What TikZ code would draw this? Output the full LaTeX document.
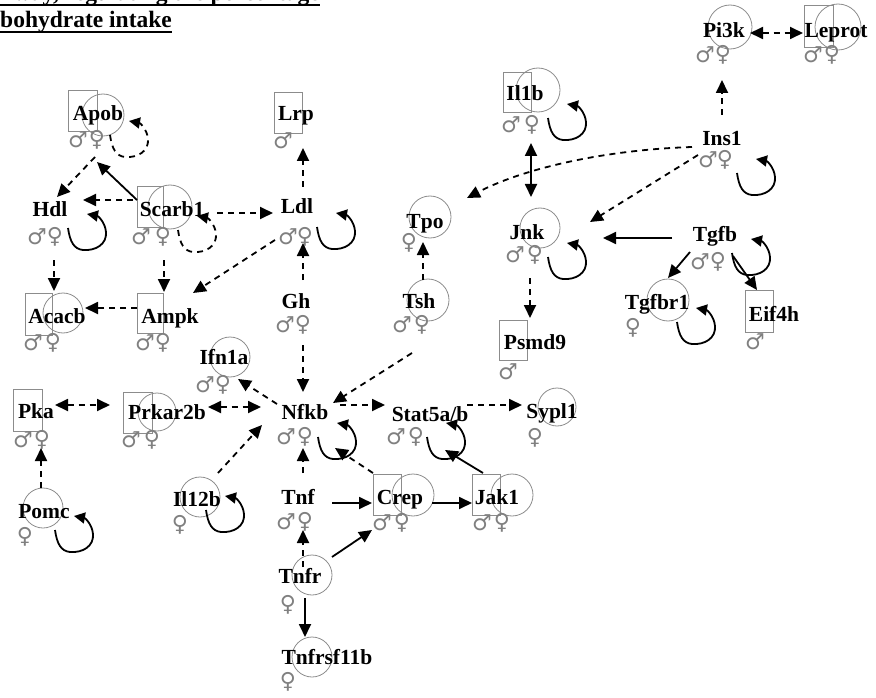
\documentclass[tikz,border=0pt]{standalone}
\usepackage{fontspec}
\setmainfont{Liberation Serif}
\newfontfamily\gsym{DejaVu Sans}
\usetikzlibrary{arrows.meta}
\tikzset{
  lbl/.style={anchor=base, inner sep=0pt, font=\fontsize{21.5}{21.5}\selectfont\bfseries},
  ttl/.style={inner sep=0pt, font=\fontsize{23.5}{24}\selectfont\bfseries},
  gsh/.style={draw=black!45, line width=0.8pt},
  sm/.style={inner sep=0pt, text=black!50, font=\gsym\fontsize{22}{22}\selectfont},
  tip/.style={-{Triangle[length=13pt,width=12pt]}},
  btip/.style={{Triangle[length=13pt,width=12pt]}-{Triangle[length=13pt,width=12pt]}},
  ltip/.style={-{Triangle[length=11pt,width=11pt]}},
  dsh/.style={line width=1.8pt, dash pattern=on 6pt off 5pt, tip},
  dd/.style={line width=1.8pt, dash pattern=on 6pt off 5pt, btip},
  sol/.style={line width=1.8pt, tip},
  sd/.style={line width=1.8pt, btip},
  ldsh/.style={line width=1.8pt, dash pattern=on 6pt off 5pt, ltip},
  lsol/.style={line width=1.8pt, ltip},
  pics/sloop/.style={code={\draw[#1] (0,0) .. controls (2,14) and (6,21) .. (15,22) .. controls (28,23) and (39,16) .. (38,4) .. controls (37,-6) and (30,-12) .. (19,-14);}}
}
\newcommand\msym[3]{\node[sm, xshift=-2pt] (#1) at (#2,#3) {♂};}
\newcommand\fsym[3]{\node[sm] (#1) at (#2,#3) {♀};}
\begin{document}
\begin{tikzpicture}[x=1pt,y=-1pt]
\useasboundingbox (0,0) rectangle (876,698);
% title
\begin{scope}
\clip (0,0) rectangle (876,698);
\node[ttl, anchor=base east] (t1) at (320,1) {pathway, regulating the percentage};
\draw[line width=2pt] ([yshift=-4pt]t1.base west) -- ([yshift=-4pt]t1.base east);
\end{scope}
\node[ttl, anchor=base west] (t2) at (0,28) {bohydrate intake};
\draw[line width=2pt] ([yshift=-4pt]t2.base west) -- ([yshift=-4pt]t2.base east);

% gray shapes
\draw[gsh] (68,90) rectangle (97,131); \draw[gsh] (103,115) circle[radius=21pt];
\draw[gsh] (274,92) rectangle (302,133);
\draw[gsh] (137,186) rectangle (163,227); \draw[gsh] (170,207) circle[radius=22pt];
\draw[gsh] (25,293) rectangle (52,335); \draw[gsh] (63,313) circle[radius=20pt];
\draw[gsh] (137,293) rectangle (163,333);
\draw[gsh] (430,217) circle[radius=21pt];
\draw[gsh] (428,300) circle[radius=21pt];
\draw[gsh] (730,27) circle[radius=22pt];
\draw[gsh] (804,5) rectangle (833,47); \draw[gsh] (838,27) circle[radius=23pt];
\draw[gsh] (503,72) rectangle (531,112); \draw[gsh] (538,90) circle[radius=22pt];
\draw[gsh] (540,228) circle[radius=20pt];
\draw[gsh] (668,300) circle[radius=21pt];
\draw[gsh] (745,290) rectangle (773,332);
\draw[gsh] (499,320) rectangle (527,360);
\draw[gsh] (230,357) circle[radius=20pt];
\draw[gsh] (13,389) rectangle (42,431);
\draw[gsh] (123,392) rectangle (152,433); \draw[gsh] (157,412) circle[radius=19pt];
\draw[gsh] (43,508) circle[radius=20pt];
\draw[gsh] (200,497) circle[radius=20pt];
\draw[gsh] (557,407) circle[radius=19pt];
\draw[gsh] (373,474) rectangle (401,515); \draw[gsh] (413,495) circle[radius=21pt];
\draw[gsh] (472,474) rectangle (500,515); \draw[gsh] (512,495) circle[radius=21pt];
\draw[gsh] (312,575) circle[radius=20pt];
\draw[gsh] (312,657) circle[radius=20pt];

% labels
\node[lbl] (apob) at (98,121) {Apob};
\node[lbl] (lrp) at (296,121) {Lrp};
\node[lbl] (hdl) at (50,216) {Hdl};
\node[lbl] (scarb1) at (172,216) {Scarb1};
\node[lbl] (ldl) at (297,214) {Ldl};
\node[lbl] (acacb) at (57,323) {Acacb};
\node[lbl] (ampk) at (170,323) {Ampk};
\node[lbl] (gh) at (296,308) {Gh};
\node[lbl] (tpo) at (425,228) {Tpo};
\node[lbl] (tsh) at (419,308) {Tsh};
\node[lbl] (pi3k) at (724,38) {Pi3k};
\node[lbl] (leprot) at (836,38) {Leprot};
\node[lbl] (il1b) at (525,101) {Il1b};
\node[lbl] (ins1) at (722,146) {Ins1};
\node[lbl] (jnk) at (527,239) {Jnk};
\node[lbl] (tgfb) at (715,241) {Tgfb};
\node[lbl] (tgfbr1) at (657,309) {Tgfbr1};
\node[lbl] (eif4h) at (774,321) {Eif4h};
\node[lbl] (psmd9) at (535,349) {Psmd9};
\node[lbl] (ifn1a) at (224,364) {Ifn1a};
\node[lbl] (pka) at (36,418) {Pka};
\node[lbl] (prkar2b) at (167,419) {Prkar2b};
\node[lbl] (pomc) at (44,518) {Pomc};
\node[lbl] (il12b) at (197,506) {Il12b};
\node[lbl] (nfkb) at (305,419) {Nfkb};
\node[lbl] (stat5) at (430,421) {Stat5a/b};
\node[lbl] (sypl1) at (552,418) {Sypl1};
\node[lbl] (tnf) at (298,504) {Tnf};
\node[lbl] (crep) at (400,504) {Crep};
\node[lbl] (jak1) at (497,504) {Jak1};
\node[lbl] (tnfr) at (300,583) {Tnfr};
\node[lbl] (tnfrsf11b) at (327,664) {Tnfrsf11b};

% sex symbols
\msym{apobm}{80}{140} \fsym{apobf}{97}{140}
\msym{lrpm}{285}{141}
\msym{hdlm}{39}{237} \fsym{hdlf}{55}{237}
\msym{scarbm}{143}{237} \fsym{scarbf}{163}{237}
\msym{ldlm}{290}{237} \fsym{ldlf}{305}{237}
\msym{acacbm}{35}{343} \fsym{acacbf}{53}{343}
\msym{ampkm}{147}{343} \fsym{ampkf}{163}{343}
\msym{ghm}{287}{325} \fsym{ghf}{303}{325}
\fsym{tpof}{409}{243}
\msym{tshm}{404}{325} \fsym{tshf}{422}{325}
\msym{pikm}{707}{55} \fsym{pikf}{723}{55}
\msym{leprotm}{815}{55} \fsym{leprotf}{832}{55}
\msym{ilbm}{513}{125} \fsym{ilbf}{532}{125}
\msym{insm}{710}{160} \fsym{insf}{725}{160}
\msym{jnkm}{517}{255} \fsym{jnkf}{535}{255}
\msym{tgfbm}{702}{262} \fsym{tgfbf}{718}{262}
\fsym{tgfbrf}{633}{328}
\msym{eifm}{757}{342}
\msym{psmdm}{510}{372}
\msym{ifnm}{207}{385} \fsym{ifnf}{223}{385}
\msym{pkam}{25}{440} \fsym{pkaf}{42}{440}
\msym{prkm}{133}{440} \fsym{prkf}{152}{440}
\fsym{pomcf}{25}{537}
\fsym{il12f}{180}{525}
\msym{nfkbm}{288}{437} \fsym{nfkbf}{305}{437}
\msym{statm}{398}{437} \fsym{statf}{416}{437}
\fsym{syplf}{535}{438}
\msym{tnfm}{288}{522} \fsym{tnff}{305}{522}
\msym{crepm}{384}{523} \fsym{crepf}{402}{523}
\msym{jakm}{484}{523} \fsym{jakf}{502}{523}
\fsym{tnfrf}{288}{605}
\fsym{tnfrsff}{288}{682}

% edges
\draw[sol] ([shift={(-35,-16)}]scarb1.base) -- ([shift={(-1,41)}]apob.base);
\draw[dsh] ([shift={(-3,36)}]apob.base) -- ([shift={(7,-19)}]hdl.base);
\draw[dsh] ([shift={(-39,-16)}]scarb1.base) -- ([shift={(33,-16)}]hdl.base);
\draw[dsh] ([shift={(45,-3)}]scarb1.base) -- ([shift={(-24,-1)}]ldl.base);
\draw[dsh] ([shift={(4,44)}]hdl.base) -- ([shift={(-3,-32)}]acacb.base);
\draw[dsh] ([shift={(-8,44)}]scarb1.base) -- ([shift={(-6,-31)}]ampk.base);
\draw[dsh] ([shift={(-22,26)}]ldl.base) -- ([shift={(23,-30)}]ampk.base);
\draw[dsh] ([shift={(-33,-15)}]ampk.base) -- ([shift={(28,-15)}]acacb.base);
\draw[dsh] ([shift={(6,-27)}]ldl.base) -- ([shift={(7,27)}]lrp.base);
\draw[dsh] ([shift={(7,-28)}]gh.base) -- ([shift={(6,29)}]ldl.base);
\draw[dsh] ([shift={(4,-28)}]tsh.base) -- ([shift={(-2,14)}]tpo.base);
\draw[dsh] ([shift={(-30,1)}]ins1.base) .. controls ([shift={(-122,4)}]ins1.base) and ([shift={(95,-58)}]tpo.base) .. ([shift={(42,-30)}]tpo.base);
\draw[dsh] ([shift={(-24,9)}]ins1.base) -- ([shift={(63,-17)}]jnk.base);
\draw[sd] ([shift={(6,42)}]il1b.base) -- ([shift={(4,-42)}]jnk.base);
\draw[dsh] ([shift={(0,-31)}]ins1.base) -- ([shift={(-2,42)}]pi3k.base);
\draw[dd] ([shift={(26,-5)}]pi3k.base) -- ([shift={(-33,-5)}]leprot.base);
\draw[sol] ([shift={(-43,-3)}]tgfb.base) -- ([shift={(76,-1)}]jnk.base);
\draw[sol] ([shift={(-25,11)}]tgfb.base) -- ([shift={(11,-31)}]tgfbr1.base);
\draw[sol] ([shift={(18,15)}]tgfb.base) -- ([shift={(-17,-31)}]eif4h.base);
\draw[dsh] ([shift={(3,39)}]jnk.base) -- ([shift={(-5,-31)}]psmd9.base);
\draw[dsh] ([shift={(-7,45)}]tsh.base) -- ([shift={(28,-16)}]nfkb.base);
\draw[dsh] ([shift={(7,37)}]gh.base) -- ([shift={(-2,-27)}]nfkb.base);
\draw[dsh] ([shift={(-28,-15)}]nfkb.base) -- ([shift={(14,15)}]ifn1a.base);
\draw[dd] ([shift={(41,-12)}]prkar2b.base) -- ([shift={(-44,-12)}]nfkb.base);
\draw[dd] ([shift={(19,-13)}]pka.base) -- ([shift={(-57,-14)}]prkar2b.base);
\draw[dsh] ([shift={(21,-33)}]il12b.base) -- ([shift={(-43,6)}]nfkb.base);
\draw[dsh] ([shift={(-3,-30)}]pomc.base) -- ([shift={(5,30)}]pka.base);
\draw[dsh] ([shift={(35,-14)}]nfkb.base) -- ([shift={(-45,-16)}]stat5.base);
\draw[dsh] ([shift={(37,-16)}]stat5.base) -- ([shift={(-30,-13)}]sypl1.base);
\draw[dsh] ([shift={(-27,-31)}]crep.base) -- ([shift={(30,29)}]nfkb.base);
\draw[sol] ([shift={(-14,-31)}]jak1.base) -- ([shift={(15,29)}]stat5.base);
\draw[dsh] ([shift={(5,-31)}]tnf.base) -- ([shift={(-2,29)}]nfkb.base);
\draw[sol] ([shift={(34,-1)}]tnf.base) -- ([shift={(-28,-1)}]crep.base);
\draw[sol] ([shift={(32,-1)}]crep.base) -- ([shift={(-25,-1)}]jak1.base);
\draw[dsh] ([shift={(3,-16)}]tnfr.base) -- ([shift={(5,26)}]tnf.base);
\draw[sol] ([shift={(32,-26)}]tnfr.base) -- ([shift={(-28,26)}]crep.base);
\draw[sol] ([shift={(5,15)}]tnfr.base) -- ([shift={(-22,-27)}]tnfrsf11b.base);

% self loops
\pic at ([shift={(12,14)}]apob.base) {sloop=ldsh};
\pic at ([shift={(18,12)}]hdl.base) {sloop=lsol};
\pic at ([shift={(6,14)}]scarb1.base) {sloop=ldsh};
\pic at ([shift={(20,13)}]ldl.base) {sloop=lsol};
\pic at ([shift={(23,17)}]il1b.base) {sloop=lsol};
\pic at ([shift={(15,27)}]ins1.base) {sloop=lsol};
\pic at ([shift={(21,18)}]jnk.base) {sloop=lsol};
\pic at ([shift={(17,12)}]tgfb.base) {sloop=lsol};
\pic at ([shift={(20,13)}]tgfbr1.base) {sloop=lsol};
\pic at ([shift={(11,12)}]pomc.base) {sloop=lsol};
\pic at ([shift={(9,4)}]il12b.base) {sloop=lsol};
\pic at ([shift={(13,18)}]nfkb.base) {sloop=lsol};
\pic at ([shift={(-3,16)}]stat5.base) {sloop=lsol};
\end{tikzpicture}
\end{document}
